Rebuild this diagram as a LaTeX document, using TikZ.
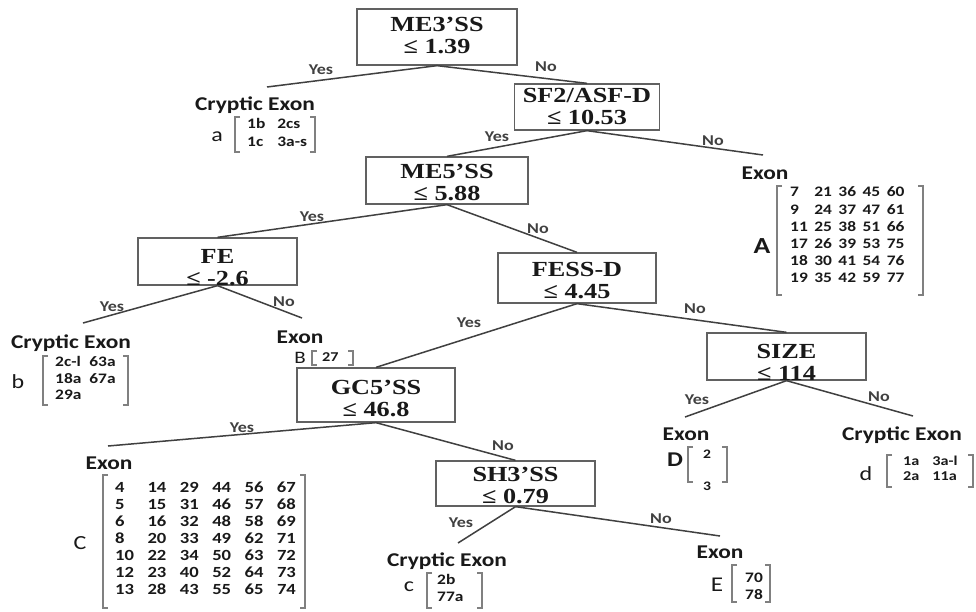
\documentclass[tikz,border=0pt]{standalone}
\usepackage{fontspec}
\newfontfamily\boxfont[FakeStretch=1.22]{Liberation Serif}
\newfontfamily\leaffont[FakeStretch=1.2]{Carlito}
\definecolor{linegray}{gray}{0.25}
\definecolor{boxgray}{gray}{0.38}
\definecolor{brkgray}{gray}{0.5}
\definecolor{ink}{gray}{0.1}
\newcommand{\brk}[4]{%
  \draw[brkline] (#1+5,#2) -- (#1,#2) -- (#1,#4) -- (#1+5,#4);
  \draw[brkline] (#3-5,#2) -- (#3,#2) -- (#3,#4) -- (#3-5,#4);}
\newcommand{\efont}[2]{\leaffont\bfseries\fontsize{#1}{#2}\selectfont}
\begin{document}
\begin{tikzpicture}[x=1pt,y=-1pt,
  splitbox/.style 2 args={draw=boxgray, line width=1.3pt, minimum width=#1pt, minimum height=#2pt, inner sep=0pt},
  splittext/.style={font=\boxfont\bfseries\fontsize{21.5}{22}\selectfont, align=center, inner sep=0pt, text=ink},
  conn/.style={draw=linegray, line width=1.5pt},
  yn/.style={font=\leaffont\bfseries\fontsize{15}{15}\selectfont, text=linegray, inner sep=0pt},
  leaftitle/.style={font=\leaffont\bfseries\fontsize{19.5}{19.5}\selectfont, inner sep=0pt, anchor=base, text=ink},
  letter/.style={font=\leaffont\fontsize{20}{20}\selectfont, inner sep=0pt, text=ink},
  entries/.style={inner sep=0pt, anchor=base west, text=ink},
  brkline/.style={draw=brkgray, line width=1.1pt},
]
\useasboundingbox[fill=white] (0,0) rectangle (976,611);

% split boxes
\node[splitbox={160}{56}] (n1) at (437,37) {};
\node[splittext, yshift=2pt] (t1) at (n1.center) {ME3’SS\\≤ 1.39};
\node[splitbox={145}{46}] (n2) at (587,107) {};
\node[splittext] (t2) at (n2.center) {SF2/ASF-D\\≤ 10.53};
\node[splitbox={162}{47}] (n3) at (447,180.5) {};
\node[splittext, yshift=-2pt] (t3) at (n3.center) {ME5’SS\\≤ 5.88};
\node[splitbox={159}{47}] (n4) at (217.5,261.5) {};
\node[splittext, yshift=-6pt] (t4) at (n4.center) {FE\\≤ -2.6};
\node[splitbox={158}{50}] (n5) at (577,278) {};
\node[splittext, yshift=-3pt] (t5) at (n5.center) {FESS-D\\≤ 4.45};
\node[splitbox={159}{47}] (n6) at (786.5,356.5) {};
\node[splittext, yshift=-6pt] (t6) at (n6.center) {SIZE\\≤ 114};
\node[splitbox={158}{54}] (n7) at (376,395) {};
\node[splittext, yshift=-3.5pt] (t7) at (n7.center) {GC5’SS\\≤ 46.8};
\node[splitbox={159}{45}] (n8) at (515.5,483.5) {};
\node[splittext, yshift=-1.5pt] (t8) at (n8.center) {SH3’SS\\≤ 0.79};

% free ends of leaf connectors
\coordinate (ya) at (267,87);
\coordinate (nA) at (763,155);
\coordinate (yb) at (83,323);
\coordinate (nB) at (302,318);
\coordinate (yD) at (685,417);
\coordinate (nd) at (913,416);
\coordinate (yC) at (108,446);
\coordinate (yc) at (458,543);
\coordinate (nE) at (720,536);

% connectors
\draw[conn] (n1.south) -- (ya);
\draw[conn] (n1.south) -- (n2.north);
\draw[conn] (n2.south) -- (n3.north);
\draw[conn] (n2.south) -- (nA);
\draw[conn] (n3.south) -- (n4.north);
\draw[conn] (n3.south) -- (n5.north);
\draw[conn] (n4.south) -- (yb);
\draw[conn] (n4.south) -- (nB);
\draw[conn] (n5.south) -- (n7.north);
\draw[conn] (n5.south) -- (n6.north);
\draw[conn] (n6.south) -- (yD);
\draw[conn] (n6.south) -- (nd);
\draw[conn] (n7.south) -- (yC);
\draw[conn] (n7.south) -- (n8.north);
\draw[conn] (n8.south) -- (yc);
\draw[conn] (n8.south) -- (nE);

% yes / no labels
\node[yn] (y1) at (321,70) {Yes};
\node[yn] (o1) at (546,67) {No};
\node[yn] (y2) at (497,137) {Yes};
\node[yn] (o2) at (713,141) {No};
\node[yn] (y3) at (312,217) {Yes};
\node[yn] (o3) at (538,229) {No};
\node[yn] (y4) at (112,307) {Yes};
\node[yn] (o4) at (284,302) {No};
\node[yn] (y5) at (469,323) {Yes};
\node[yn] (o5) at (695,309) {No};
\node[yn] (y6) at (697,400) {Yes};
\node[yn] (o6) at (879,397) {No};
\node[yn] (y7) at (242,428) {Yes};
\node[yn] (o7) at (503,446) {No};
\node[yn] (y8) at (461,523) {Yes};
\node[yn] (o8) at (661,519) {No};

% leaf titles
\node[leaftitle] (ta) at (255,110) {Cryptic Exon};
\node[leaftitle] (tA) at (765,179) {Exon};
\node[leaftitle] (tb) at (71,348) {Cryptic Exon};
\node[leaftitle] (tB) at (300,343) {Exon};
\node[leaftitle] (tC) at (109,469) {Exon};
\node[leaftitle] (tc) at (447,566) {Cryptic Exon};
\node[leaftitle] (tD) at (686,440) {Exon};
\node[leaftitle] (td) at (902,440) {Cryptic Exon};
\node[leaftitle] (tE) at (720,558) {Exon};

% leaf letters
\node[letter] (la) at (217,137) {a};
\node[letter, font=\leaffont\bfseries\fontsize{23}{23}\selectfont] (lA) at (762,246) {A};
\node[letter] (lb) at (18,382) {b};
\node[letter, font=\leaffont\fontsize{17.5}{17.5}\selectfont] (lB) at (300,357.5) {B};
\node[letter] (lC) at (80,543) {C};
\node[letter] (lc) at (409,587) {c};
\node[letter, font=\leaffont\bfseries\fontsize{21}{21}\selectfont] (lD) at (675,460) {D};
\node[letter] (ld) at (866,474) {d};
\node[letter, font=\leaffont\fontsize{21}{21}\selectfont] (lE) at (717,585) {E};

% brackets
\brk{235}{117}{315}{152}
\brk{777}{186}{923}{295}
\brk{43}{356}{128}{405}
\brk{312}{351}{353}{365}
\brk{103}{475}{305}{608}
\brk{427}{573}{482}{608}
\brk{688}{447}{727}{482}
\brk{887}{455}{973}{487}
\brk{732}{565}{770}{602}

% leaf entries
\node[entries, font=\efont{14.5}{18}] (ma) at (247,128.4)
  {\begin{tabular}[t]{@{}l@{\hspace{12pt}}l@{}}1b & 2cs\\ 1c & 3a-s\end{tabular}};
\node[entries, font=\efont{14.5}{17.2}] (mA) at (790,196.8)
  {\begin{tabular}[t]{@{}l@{\hspace{6.5pt}}l@{\hspace{6.5pt}}l@{\hspace{6.5pt}}l@{\hspace{6.5pt}}l@{}}
   7 & 21 & 36 & 45 & 60\\
   9 & 24 & 37 & 47 & 61\\
   11 & 25 & 38 & 51 & 66\\
   17 & 26 & 39 & 53 & 75\\
   18 & 30 & 41 & 54 & 76\\
   19 & 35 & 42 & 59 & 77\end{tabular}};
\node[entries, font=\efont{14.5}{16.5}] (mb) at (55,366.6)
  {\begin{tabular}[t]{@{}l@{\hspace{8pt}}l@{}}2c-l & 63a\\ 18a & 67a\\ 29a & \end{tabular}};
\node[entries, font=\efont{13.5}{13.5}] (mB) at (322,361.8) {27};
\node[entries, font=\efont{15.5}{17}] (mC) at (115,492)
  {\begin{tabular}[t]{@{}l@{\hspace{13.5pt}}l@{\hspace{13.5pt}}l@{\hspace{13.5pt}}l@{\hspace{13.5pt}}l@{\hspace{13.5pt}}l@{}}
   4 & 14 & 29 & 44 & 56 & 67\\
   5 & 15 & 31 & 46 & 57 & 68\\
   6 & 16 & 32 & 48 & 58 & 69\\
   8 & 20 & 33 & 49 & 62 & 71\\
   10 & 22 & 34 & 50 & 63 & 72\\
   12 & 23 & 40 & 52 & 64 & 73\\
   13 & 28 & 43 & 55 & 65 & 74\end{tabular}};
\node[entries, font=\efont{14.5}{17}] (mc) at (437,584.3)
  {\begin{tabular}[t]{@{}l@{}}2b\\ 77a\end{tabular}};
\node[entries, font=\efont{13}{32}] (mD) at (703,458)
  {\begin{tabular}[t]{@{}l@{}}2\\ 3\end{tabular}};
\node[entries, font=\efont{13.5}{15}] (md) at (903,465.8)
  {\begin{tabular}[t]{@{}l@{\hspace{13pt}}l@{}}1a & 3a-l\\ 2a & 11a\end{tabular}};
\node[entries, font=\efont{14.5}{17.5}] (mE) at (745,582.3)
  {\begin{tabular}[t]{@{}l@{}}70\\ 78\end{tabular}};
\end{tikzpicture}
\end{document}
